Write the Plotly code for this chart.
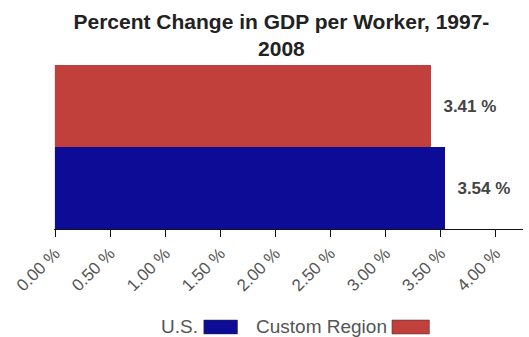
import plotly.graph_objects as go

# Percent change in GDP per worker, 1997-2008
regions = ["U.S.", "Custom Region"]
values = [3.54, 3.41]
colors = ["#0c0c96", "#c2403c"]
tick_vals = [0, 0.5, 1.0, 1.5, 2.0, 2.5, 3.0, 3.5, 4.0]
tick_text = [f"{t:.2f} %" for t in tick_vals]

FONT = "Liberation Sans, Arial, sans-serif"

fig = go.Figure()
for name, v, c in zip(regions, values, colors):
    fig.add_trace(go.Bar(
        x=[v], y=[name], orientation="h", name=name,
        marker=dict(color=c, line=dict(width=0)),
        text=[f"  {v:.2f} %"], textposition="outside",
        textfont=dict(family=FONT, size=17, color="#444444", weight="bold"),
        cliponaxis=False, showlegend=False,
    ))

fig.update_layout(
    width=529, height=337,
    margin=dict(l=55, r=6, t=65, b=108),
    paper_bgcolor="white", plot_bgcolor="white",
    bargap=0,
    title=dict(
        text="<b>Percent Change in GDP per Worker, 1997-<br>2008</b>",
        x=0.532, xanchor="center", xref="container",
        y=0.915, yanchor="top", yref="container",
        font=dict(family=FONT, size=21, color="#222222"),
    ),
    xaxis=dict(
        range=[0, 4.25], tickvals=tick_vals, ticktext=tick_text,
        tickangle=-45, ticks="outside", ticklen=7, tickcolor="#111111",
        showline=True, linecolor="#111111", linewidth=1, showgrid=False,
        zeroline=False,
        tickfont=dict(family=FONT, size=17, color="#555555"),
    ),
    yaxis=dict(showticklabels=False, showgrid=False, zeroline=False,
               showline=True, linecolor="#e6e6e6", categoryorder="array",
               categoryarray=regions),
)

# Legend row: each label is followed by its colour swatch
label_right = [0.310, 0.714]
swatch_left = [0.318, 0.720]
swatch_right = [0.390, 0.800]
for label, c, tx, s0, s1 in zip(regions, colors, label_right, swatch_left, swatch_right):
    fig.add_annotation(text=label, xref="paper", yref="paper", x=tx, y=-0.595,
                       xanchor="right", yanchor="middle", showarrow=False,
                       font=dict(family=FONT, size=19, color="#555555"))
    fig.add_shape(type="rect", xref="paper", yref="paper",
                  x0=s0, x1=s1, y0=-0.64, y1=-0.555,
                  fillcolor=c, line=dict(color="#333333", width=0.5))

fig.write_html("out.html")
